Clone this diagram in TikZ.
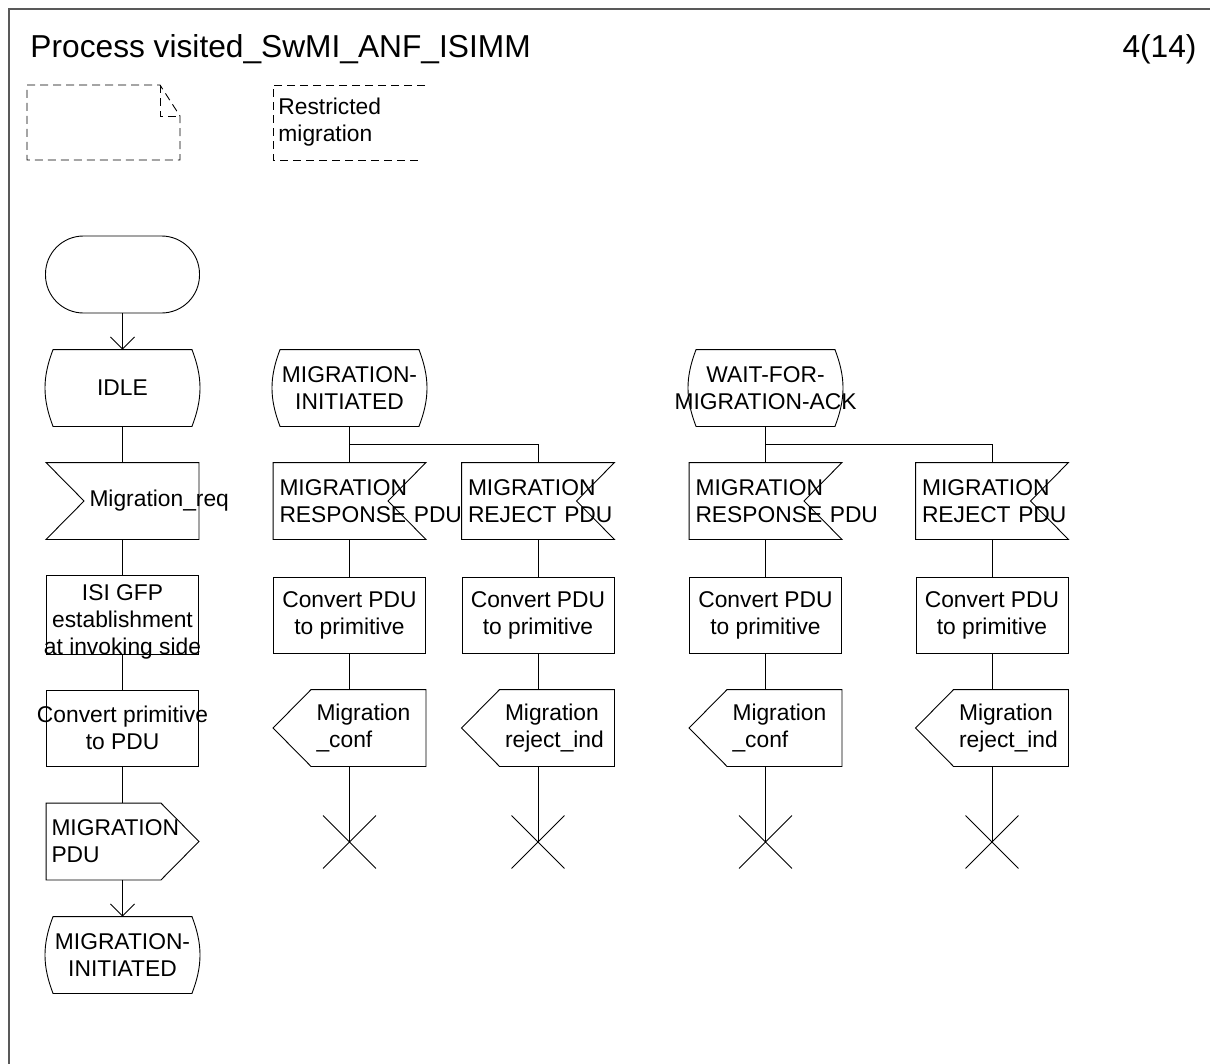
\documentclass[tikz,border=0pt]{standalone}
\usepackage{fontspec}
\setmainfont{Liberation Sans}
\usetikzlibrary{arrows.meta, calc, shapes.misc}

\begin{document}
\begin{tikzpicture}[x=1pt, y=-1pt, line width=0.9pt, inner sep=0pt,
    >={Straight Barb[length=12pt, width=24pt]},
    font=\fontsize{22.8}{27}\selectfont,
    sdl/.style={minimum width=152pt, minimum height=76pt},
    sdlstart/.style={draw, rounded corners=38pt, minimum width=154pt, minimum height=77pt},
    sdlstate/.style={sdl, minimum width=154pt, align=center},
    sdltask/.style={sdl, draw, align=center},
    inleft/.style={sdl, text width=66pt, align=left},
    inright/.style={sdl, text width=140pt, align=left},
    outleft/.style={sdl, text width=66pt, align=left},
    outright/.style={sdl, text width=142pt, align=left},
    stopx/.style={cross out, draw, minimum size=52pt},
    dashline/.style={dash pattern=on 8pt off 5pt}]
  \useasboundingbox (0,0) rectangle (1210,1063);

  % Frame and heading
  \draw[black!65, line width=1.2pt] (9,1080) -- (9,9) -- (1220,9);
  \node[anchor=base west, font=\fontsize{31.7}{36}\selectfont] (title) at (30,57) {Process visited\_SwMI\_ANF\_ISIMM};
  \node[anchor=base east, font=\fontsize{31.7}{36}\selectfont] (page) at (1197,57) {4(14)};

  % Dashed symbols
  \draw[dashline] (27,85) -- (160,85) -- (180,116) -- (180,160) -- (27,160) -- cycle;
  \draw[dashline] (160,85) -- (160,116) -- (180,116);
  \draw[dashline] (425,85) -- (273,85) -- (273,160) -- (420,160);
  \node[anchor=west, align=left] (note) at (278,122.5) {Restricted\\migration};

  % Column 1
  \node[sdlstart] (start) at (122.5,274.5) {};
  \node[sdlstate] (idle) at (122.5,388) {IDLE};
  \node[inleft] (req) at (122.5,501) {Migration\_req};
  \node[sdltask, text height=79pt, text depth=-3pt] (isi) at (122.5,615)
    {ISI GFP\\establishment\\\makebox[0pt]{at invoking side}};
  \node[sdltask] (convprim) at (122.5,728) {\makebox[0pt]{Convert primitive}\\to PDU};
  \node[outright] (pdu) at (122.5,841.5) {MIGRATION\\PDU};
  \node[sdlstate] (miend) at (122.5,955) {MIGRATION-\\INITIATED};

  % Columns 2 and 3
  \node[sdlstate] (mi) at (349.5,388) {MIGRATION-\\INITIATED};
  \node[inright] (resp1) at (349.5,501) {MIGRATION\\RESPONSE~PDU};
  \node[sdltask] (conv1) at (349.5,615) {Convert PDU\\to primitive};
  \node[outleft] (conf1) at (349.5,728) {Migration\\\_conf};
  \node[stopx] (stop1) at (349.5,842) {};
  \node[inright] (rej1) at (538,501) {MIGRATION\\REJECT~PDU};
  \node[sdltask] (conv2) at (538,615) {Convert PDU\\to primitive};
  \node[outleft] (rejind1) at (538,728) {Migration\\reject\_ind};
  \node[stopx] (stop2) at (538,842) {};

  % Columns 4 and 5
  \node[sdlstate] (wait) at (765.5,388) {WAIT-FOR-\\\makebox[0pt]{MIGRATION-ACK}};
  \node[inright] (resp2) at (765.5,501) {MIGRATION\\RESPONSE~PDU};
  \node[sdltask] (conv3) at (765.5,615) {Convert PDU\\to primitive};
  \node[outleft] (conf2) at (765.5,728) {Migration\\\_conf};
  \node[stopx] (stop3) at (765.5,842) {};
  \node[inright] (rej2) at (992,501) {MIGRATION\\REJECT~PDU};
  \node[sdltask] (conv4) at (992,615) {Convert PDU\\to primitive};
  \node[outleft] (rejind2) at (992,728) {Migration\\reject\_ind};
  \node[stopx] (stop4) at (992,842) {};

  % Outlines
  \foreach \n in {idle, miend, mi, wait}
    \draw ([xshift=8pt]\n.south west) to[bend left=21] ([xshift=8pt]\n.north west)
      -- ([xshift=-8pt]\n.north east) to[bend left=21] ([xshift=-8pt]\n.south east) -- cycle;
  \draw (req.north west) -- (req.north east) -- (req.south east) -- (req.south west)
    -- ([xshift=38pt]req.west) -- cycle;
  \foreach \n in {resp1, rej1, resp2, rej2}
    \draw (\n.north west) -- (\n.north east) -- ([xshift=-38pt]\n.east)
      -- (\n.south east) -- (\n.south west) -- cycle;
  \foreach \n in {conf1, rejind1, conf2, rejind2}
    \draw (\n.west) -- ([xshift=38pt]\n.north west) -- (\n.north east)
      -- (\n.south east) -- ([xshift=38pt]\n.south west) -- cycle;
  \draw (pdu.north west) -- ([xshift=-38pt]pdu.north east) -- (pdu.east)
    -- ([xshift=-38pt]pdu.south east) -- (pdu.south west) -- cycle;

  % Connectors
  \draw[->] (start) -- (idle);
  \draw[->] (pdu) -- (miend);
  \foreach \a/\b in {idle/req, req/isi, isi/convprim, convprim/pdu,
      mi/resp1, resp1/conv1, conv1/conf1, rej1/conv2, conv2/rejind1,
      wait/resp2, resp2/conv3, conv3/conf2, rej2/conv4, conv4/rejind2}
    \draw (\a) -- (\b);
  \foreach \a/\b in {conf1/stop1, rejind1/stop2, conf2/stop3, rejind2/stop4}
    \draw (\a) -- (\b.center);
  \coordinate (mi_split) at ($(mi.south)!0.5!(resp1.north)$);
  \coordinate (wait_split) at ($(wait.south)!0.5!(resp2.north)$);
  \draw (mi_split) -| (rej1);
  \draw (wait_split) -| (rej2);
\end{tikzpicture}
\end{document}
